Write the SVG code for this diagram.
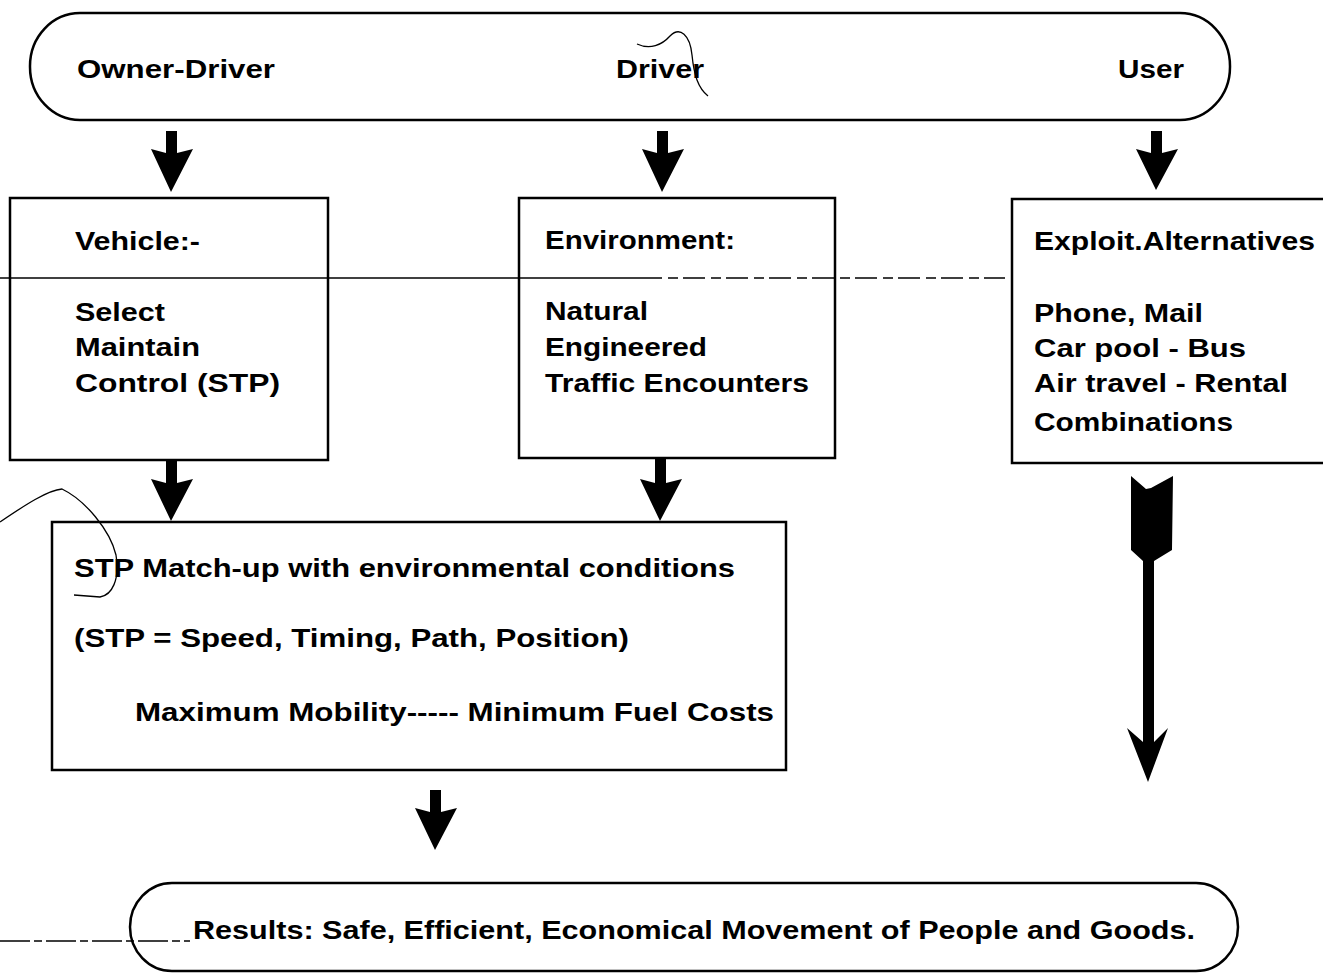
<svg xmlns="http://www.w3.org/2000/svg" width="1323" height="973" viewBox="0 0 1323 973">
<style>
.t{font-family:"Liberation Sans",Arial,sans-serif;font-weight:bold;font-size:26px;fill:#000}
.box{fill:none;stroke:#000;stroke-width:2.5}
.thin{fill:none;stroke:#000;stroke-width:1.3}
.arr{fill:#000}
</style>
<rect width="1323" height="973" fill="#fff"/>
<g id="scan-lines">
<path class="thin" d="M0 278 H640"/>
<path class="thin" d="M640 278 H1005" stroke-dasharray="22 6 10 5"/>
<path class="thin" d="M0 941 H190" stroke-dasharray="30 4 8 4"/>
<path class="thin" d="M637 44 C650 50 662 45 670 36 C680 26 690 35 692 55 C694 75 698 88 708 96"/>
<path class="thin" d="M0 522 C25 505 48 490 62 489 C85 500 110 530 116 555 C120 580 112 595 100 597 L74 595"/>
</g>
<g id="top-bar">
<rect class="box" x="30" y="13" width="1200" height="107" rx="50" ry="53"/>
<text class="t" x="77" y="78" textLength="198" lengthAdjust="spacingAndGlyphs">Owner-Driver</text>
<text class="t" x="616" y="78" textLength="88" lengthAdjust="spacingAndGlyphs">Driver</text>
<text class="t" x="1118" y="78" textLength="66" lengthAdjust="spacingAndGlyphs">User</text>
</g>
<g id="vehicle">
<rect class="box" x="10" y="198" width="318" height="262"/>
<text class="t" x="75" y="250" textLength="125" lengthAdjust="spacingAndGlyphs">Vehicle:-</text>
<text class="t" x="75" y="321" textLength="90" lengthAdjust="spacingAndGlyphs">Select</text>
<text class="t" x="75" y="356" textLength="125" lengthAdjust="spacingAndGlyphs">Maintain</text>
<text class="t" x="75" y="392" textLength="205" lengthAdjust="spacingAndGlyphs">Control (STP)</text>
</g>
<g id="environment">
<rect class="box" x="519" y="198" width="316" height="260"/>
<text class="t" x="545" y="249" textLength="190" lengthAdjust="spacingAndGlyphs">Environment:</text>
<text class="t" x="545" y="320" textLength="103" lengthAdjust="spacingAndGlyphs">Natural</text>
<text class="t" x="545" y="356" textLength="162" lengthAdjust="spacingAndGlyphs">Engineered</text>
<text class="t" x="545" y="392" textLength="264" lengthAdjust="spacingAndGlyphs">Traffic Encounters</text>
</g>
<g id="alternatives">
<rect class="box" x="1012" y="199" width="320" height="264"/>
<text class="t" x="1034" y="250" textLength="281" lengthAdjust="spacingAndGlyphs">Exploit.Alternatives</text>
<text class="t" x="1034" y="322" textLength="169" lengthAdjust="spacingAndGlyphs">Phone, Mail</text>
<text class="t" x="1034" y="357" textLength="212" lengthAdjust="spacingAndGlyphs">Car pool - Bus</text>
<text class="t" x="1034" y="392" textLength="254" lengthAdjust="spacingAndGlyphs">Air travel - Rental</text>
<text class="t" x="1034" y="431" textLength="199" lengthAdjust="spacingAndGlyphs">Combinations</text>
</g>
<g id="stp-match">
<rect class="box" x="52" y="522" width="734" height="248"/>
<text class="t" x="74" y="577" textLength="661" lengthAdjust="spacingAndGlyphs">STP Match-up with environmental conditions</text>
<text class="t" x="74" y="647" textLength="555" lengthAdjust="spacingAndGlyphs">(STP = Speed, Timing, Path, Position)</text>
<text class="t" x="135" y="721" textLength="639" lengthAdjust="spacingAndGlyphs">Maximum Mobility----- Minimum Fuel Costs</text>
</g>
<g id="results">
<rect class="box" x="130" y="883" width="1108" height="88" rx="42" ry="44"/>
<text class="t" x="193" y="939" textLength="1002" lengthAdjust="spacingAndGlyphs">Results: Safe, Efficient, Economical Movement of People and Goods.</text>
</g>
<g id="connectors">
<path class="arr" d="M166 131 H177 V153 L193 149 L171 192 L151 149 L166 153 Z"/>
<path class="arr" d="M657 131 H668 V153 L684 149 L662 192 L642 149 L657 153 Z"/>
<path class="arr" d="M1151 131 H1162 V153 L1178 149 L1156 190 L1136 149 L1151 153 Z"/>
<path class="arr" d="M166 460 H177 V483 L193 479 L171 521 L151 479 L166 483 Z"/>
<path class="arr" d="M655 458 H666 V483 L682 479 L660 521 L640 479 L655 483 Z"/>
<path class="arr" d="M430 790 H441 V812 L457 808 L435 850 L415 808 L430 812 Z"/>
<path class="arr" d="M1131 476 L1146 489 L1151 488 L1173 476 L1172 550 L1154 561 V742 L1168 728 L1148 782 L1127 728 L1143 742 V561 L1131 550 Z"/>
</g>
</svg>
